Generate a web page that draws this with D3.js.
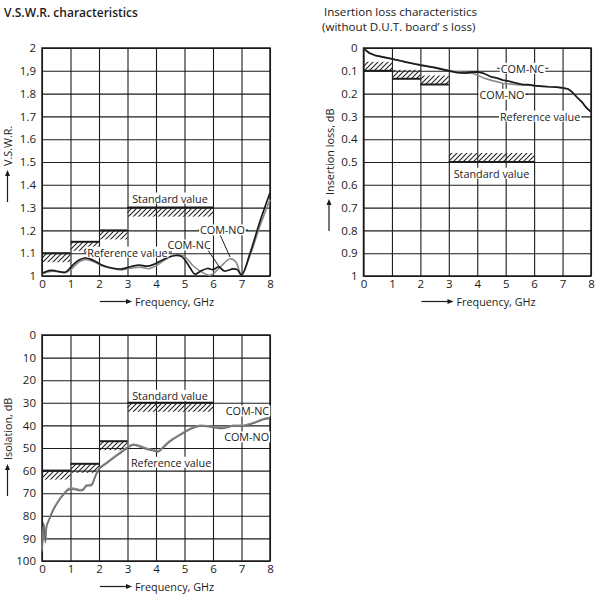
<!DOCTYPE html>
<html><head><meta charset="utf-8">
<script src="https://cdn.jsdelivr.net/npm/d3@7/dist/d3.min.js"></script>
<style>
body{margin:0;background:#fff}
svg{display:block;font-family:"Open Sans",sans-serif}
</style>
</head><body>
<svg id="c" width="600" height="600"></svg>
<script>
// ---------- data ----------
const freqTicks = [0,1,2,3,4,5,6,7,8];

const vswrTicks = [1,1.1,1.2,1.3,1.4,1.5,1.6,1.7,1.8,1.9,2];
const vswrTickLabels = ["1","1.1","1.2","1.3","1.4","1.5","1.6","1.7","1.8","1,9","2"];
const ilTicks = [0,0.1,0.2,0.3,0.4,0.5,0.6,0.7,0.8,0.9,1];
const ilTickLabels = ["0","0.1","0.2","0.3","0.4","0.5","0.6","0.7","0.8","0.9","1"];
const isoTicks = [0,10,20,30,40,50,60,70,80,90,100];
const isoTickLabels = ["0","10","20","30","40","50","60","70","80","90","100"];

// limit steps: [fromGHz, toGHz, limit]
const vswrLimits = [[0,1,1.1],[1,2,1.15],[2,3,1.2],[3,6,1.3]];
const ilLimits   = [[0,1,0.1],[1,2,0.135],[2,3,0.16],[3,6,0.5]];
const isoLimits  = [[0,1,60],[1,2,57],[2,3,47],[3,6,30]];

// V.S.W.R. curves
const vswrNCf = [0,0.15,0.3,0.5,0.8,0.95,1.1,1.3,1.5,1.7,1.9,2.1,2.45,2.8,3.15,3.4,3.7,3.9,4.1,4.4,4.7,4.9,5.05,5.2,5.37,5.55,5.8,6.0,6.2,6.4,6.7,6.85,7.0,7.3,7.65,8.0];
const vswrNC  = [1.012,1.02,1.025,1.022,1.016,1.03,1.05,1.07,1.079,1.074,1.062,1.048,1.035,1.031,1.042,1.048,1.043,1.05,1.062,1.08,1.09,1.085,1.065,1.035,1.008,1.02,1.033,1.028,1.04,1.022,1.031,1.028,1.004,1.10,1.24,1.365];
const vswrNOf = [0,0.3,0.5,0.8,1.0,1.3,1.5,1.8,2.1,2.5,2.8,3.1,3.5,3.75,4.0,4.4,4.7,5.0,5.3,5.6,5.9,6.1,6.3,6.6,6.8,7.0,7.3,7.65,8.0];
const vswrNO  = [1.01,1.02,1.02,1.015,1.027,1.062,1.072,1.064,1.045,1.032,1.027,1.034,1.038,1.032,1.045,1.078,1.094,1.086,1.045,1.018,1.003,1.02,1.045,1.076,1.062,1.005,1.09,1.22,1.335];

// Insertion loss curves
const ilNCf = [0,0.1,0.2,0.4,0.7,1.0,1.3,1.5,1.8,2.0,2.3,2.5,2.8,3.0,3.3,3.6,3.8,4.0,4.2,4.5,4.7,4.9,5.1,5.3,5.6,5.8,6.0,6.3,6.5,6.8,7.0,7.2,7.35,7.5,7.7,7.85,8.0];
const ilNC  = [0.0,0.012,0.022,0.032,0.04,0.048,0.056,0.062,0.07,0.075,0.082,0.086,0.095,0.1,0.108,0.11,0.106,0.105,0.11,0.127,0.132,0.141,0.145,0.152,0.16,0.161,0.165,0.168,0.17,0.172,0.175,0.18,0.195,0.215,0.24,0.264,0.28];
const ilNOf = [0,0.1,0.2,0.4,0.7,1.0,1.5,2.0,2.5,3.0,3.3,3.6,3.9,4.2,4.5,4.9,5.3,5.6,5.8,6.0,6.3,6.5,6.8,7.0,7.2,7.35,7.5,7.7,7.85,8.0];
const ilNO  = [0.0,0.012,0.022,0.032,0.04,0.048,0.062,0.074,0.085,0.098,0.106,0.108,0.113,0.13,0.142,0.155,0.16,0.163,0.162,0.165,0.168,0.17,0.172,0.175,0.18,0.195,0.215,0.24,0.264,0.28];

// Isolation curves
const isoNCf = [0,0.03,0.06,0.09,0.12,0.16,0.25,0.4,0.57,0.75,0.92,1.04,1.2,1.33,1.45,1.55,1.68,1.75,1.82,1.92,2.03,2.27,2.5,2.74,2.97,3.2,3.44,3.67,3.9,4.08,4.26,4.49,4.84,5.19,5.54,6.01,6.36,6.71,7.06,7.42,7.77,8.0];
const isoNC  = [96,90,83,88,92,84,82,77.6,73.9,70.9,68.7,68.3,68.6,69,68.7,67,66.8,66.5,64.6,61.4,59.1,56.9,54.7,52.5,50.3,48.8,49.6,50.7,51.3,51.8,49.9,47.3,44.4,41.9,40.4,41,41.4,40.4,40.4,39.2,37.5,37];
const isoNOf = [0,0.03,0.06,0.09,0.12,0.16,0.25,0.4,0.57,0.75,0.92,1.04,1.2,1.33,1.45,1.55,1.68,1.75,1.82,1.92,2.03,2.27,2.5,2.74,2.97,3.2,3.44,3.67,3.9,4.08,4.26,4.49,4.84,5.19,5.54,6.01,6.36,6.71,7.06,7.42,7.77,8.0];
const isoNO  = [95,89,84,89,91,85,81.5,77,73.4,70.4,68.2,67.8,68.1,68.5,68.2,66.5,66.3,66,64,60.9,58.6,56.4,54.2,52,49.8,48.4,49.1,50.2,50.8,51.3,49.4,46.8,44,41.5,40,40.6,41,40,40,38.8,37.1,36.6];

// annotations [text, x(GHz), y(value)]
const vswrNotes = [["Standard value",4.49,1.342],["Reference value",3.0,1.105],["COM-NC",5.16,1.136],["COM-NO",6.33,1.202]];
const vswrLeaders = [[[1.47,1.105],[1.62,1.105]],[[4.4,1.105],[4.56,1.105]],[[5.82,1.114],[6.25,1.035]],[[5.47,1.202],[5.62,1.202]],[[7.03,1.202],[7.23,1.202]],[[6.25,1.18],[6.6,1.083]]];
const ilNotes = [["COM-NC",5.59,0.089],["COM-NO",4.87,0.203],["Reference value",6.21,0.299],["Standard value",4.5,0.549]];
const ilLeaders = [[[4.7,0.089],[4.85,0.089]],[[6.33,0.089],[6.5,0.089]],[[4.03,0.203],[4.15,0.203]],[[5.6,0.203],[5.78,0.203]],[[4.9,0.158],[4.9,0.18]]];
const isoNotes = [["Standard value",4.49,26.7],["Reference value",4.53,56.3],["COM-NC",7.21,33.6],["COM-NO",7.18,45.1]];

// ---------- drawing ----------
const svg = d3.select('#c');
const defs = svg.append('defs');
const pat = defs.append('pattern').attr('id','hatch').attr('patternUnits','userSpaceOnUse')
  .attr('width',5).attr('height',5);
pat.append('path').attr('d','M-1,6 L6,-1 M-1,1 L1,-1 M4,6 L6,4').attr('stroke','#222').attr('stroke-width',1.1);

const INK = '#1b1b1b';
const BAND = 9;
const FS = 10.8;

function chart(o){
  const x = d3.scaleLinear().domain([0,8]).range([o.left,o.right]);
  const y = d3.scaleLinear().domain(o.yDomain).range([o.top,o.bottom]);
  const g = svg.append('g');

  // grid + tick labels
  const gx = g.append('g').attr('transform',`translate(0,${o.bottom})`)
    .call(d3.axisBottom(x).tickValues(freqTicks).tickSize(-(o.bottom-o.top)).tickPadding(4).tickFormat(d3.format('d')));
  const gy = g.append('g').attr('transform',`translate(${o.left},0)`)
    .call(d3.axisLeft(y).tickValues(o.ticks).tickSize(-(o.right-o.left)).tickPadding(6)
      .tickFormat((d,i)=>o.tickLabels[i]));
  [gx,gy].forEach(a=>{
    a.select('.domain').remove();
    a.selectAll('line').attr('stroke',INK).attr('stroke-width',1.1);
    a.selectAll('text').attr('fill',INK).attr('font-size',11.5).attr('font-family','"Open Sans",sans-serif');
  });
  g.append('rect').attr('x',o.left).attr('y',o.top).attr('width',o.right-o.left).attr('height',o.bottom-o.top)
    .attr('fill','none').attr('stroke',INK).attr('stroke-width',1.5);

  // note knockout boxes
  const notesG = g.append('g');
  const texts = o.notes.map(n=>notesG.append('text').attr('x',x(n[1])).attr('y',y(n[2]))
      .attr('text-anchor','middle').attr('dominant-baseline','central')
      .attr('font-size',FS).attr('fill',INK).text(n[0]));
  texts.forEach(t=>{
    const b = t.node().getBBox();
    notesG.insert('rect','text').attr('x',b.x-1).attr('y',b.y+2).attr('width',b.width+2).attr('height',b.height-4).attr('fill','#fff');
  });

  // limit bands
  o.limits.forEach(l=>{
    const yl = y(l[2]);
    const y0 = o.bandUp ? yl-BAND : yl;
    g.append('rect').attr('x',x(l[0])).attr('y',y0).attr('width',x(l[1])-x(l[0])).attr('height',BAND)
      .attr('fill','url(#hatch)');
    g.append('line').attr('x1',x(l[0])).attr('x2',x(l[1])).attr('y1',yl).attr('y2',yl)
      .attr('stroke',INK).attr('stroke-width',2);
  });

  // leaders
  (o.leaders||[]).forEach(s=>{
    g.append('line').attr('x1',x(s[0][0])).attr('y1',y(s[0][1])).attr('x2',x(s[1][0])).attr('y2',y(s[1][1]))
      .attr('stroke',INK).attr('stroke-width',1);
  });

  // curves
  const line = d3.line().x(d=>x(d[0])).y(d=>y(d[1])).curve(o.curve);
  o.series.forEach(s=>{
    const pts = s.f.map((f,i)=>[f,s.v[i]]);
    g.append('path').attr('d',line(pts)).attr('fill','none').attr('stroke',s.color).attr('stroke-width',s.w)
      .attr('stroke-linejoin','round');
  });
  notesG.raise();

  // axis titles
  const ay = o.bottom+25.5;
  g.append('line').attr('x1',o.left+58).attr('x2',o.left+85).attr('y1',ay).attr('y2',ay).attr('stroke',INK).attr('stroke-width',1.2);
  g.append('path').attr('d',`M${o.left+90},${ay} l-6,-2.5 v5 z`).attr('fill',INK);
  g.append('text').attr('x',o.left+93).attr('y',ay).attr('dominant-baseline','central')
    .attr('font-size',FS).attr('fill',INK).text('Frequency, GHz');

  const tx = o.left-34.5, ts = o.ytStart;
  g.append('text').attr('transform',`translate(${tx},${ts}) rotate(-90)`).attr('dominant-baseline','central')
    .attr('font-size',FS).attr('fill',INK).text(o.ytitle);
  g.append('line').attr('x1',tx).attr('x2',tx).attr('y1',ts+36).attr('y2',ts+9).attr('stroke',INK).attr('stroke-width',1.2);
  g.append('path').attr('d',`M${tx},${ts+4} l-2.5,6 h5 z`).attr('fill',INK);
}

chart({left:42,right:270,top:48,bottom:276,yDomain:[2,1],ticks:vswrTicks,tickLabels:vswrTickLabels,
  limits:vswrLimits,bandUp:false,notes:vswrNotes,leaders:vswrLeaders,curve:d3.curveCatmullRom,
  series:[{f:vswrNOf,v:vswrNO,color:'#8a8a8a',w:1.6},{f:vswrNCf,v:vswrNC,color:'#1b1b1b',w:1.7}],
  ytitle:'V.S.W.R.',ytStart:166});

chart({left:363.5,right:591,top:48,bottom:276,yDomain:[0,1],ticks:ilTicks,tickLabels:ilTickLabels,
  limits:ilLimits,bandUp:true,notes:ilNotes,leaders:ilLeaders,curve:d3.curveLinear,
  series:[{f:ilNOf,v:ilNO,color:'#8a8a8a',w:1.6},{f:ilNCf,v:ilNC,color:'#1b1b1b',w:1.7}],
  ytitle:'Insertion loss, dB',ytStart:195});

chart({left:42,right:270,top:335,bottom:561,yDomain:[0,100],ticks:isoTicks,tickLabels:isoTickLabels,
  limits:isoLimits,bandUp:false,notes:isoNotes,leaders:[],curve:d3.curveCatmullRom,
  series:[{f:isoNOf,v:isoNO,color:'#8a8a8a',w:1.8},{f:isoNCf,v:isoNC,color:'#6a6a6a',w:1.1}],
  ytitle:'Isolation, dB',ytStart:460});

// titles
svg.append('text').attr('x',4).attr('y',12).attr('dominant-baseline','central').attr('font-size',12)
  .attr('font-weight',600).attr('fill',INK).text('V.S.W.R. characteristics');
svg.append('text').attr('x',324).attr('y',11).attr('dominant-baseline','central').attr('font-size',11.6)
  .attr('fill',INK).text('Insertion loss characteristics');
svg.append('text').attr('x',322).attr('y',26.8).attr('dominant-baseline','central').attr('font-size',11.6)
  .attr('fill',INK).text('(without D.U.T. board\u2019 s loss)');
</script>
</body></html>
